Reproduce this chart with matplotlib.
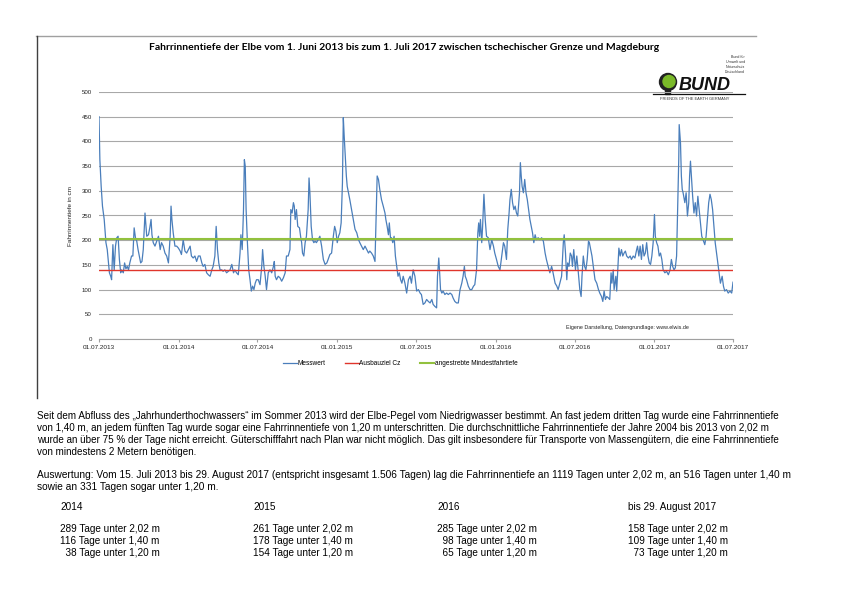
import datetime as dt
import matplotlib
matplotlib.use("Agg")
import matplotlib.pyplot as plt
import matplotlib.dates as mdates
from matplotlib.patches import Circle, Rectangle

plt.rcParams['font.family'] = ['Liberation Sans', 'DejaVu Sans']

# Daten: Tage seit 01.07.2013 und Fahrrinnentiefe in cm
start = dt.date(2013, 7, 1)
tage = [0, 2, 5, 8, 12, 14, 16, 19, 22, 24, 27, 29, 32, 35, 38, 41, 44, 47, 50, 52,
        56, 59, 62, 65, 68, 71, 75, 78, 81, 84, 87, 90, 93, 96, 99, 102, 106, 110, 114, 117,
        120, 122, 125, 129, 133, 137, 141, 144, 148, 152, 156, 160, 164, 166, 168, 171, 175, 179, 183, 187,
        190, 194, 198, 202, 206, 210, 213, 217, 221, 225, 229, 233, 237, 240, 244, 248, 252, 256, 260, 263,
        267, 270, 273, 276, 279, 283, 286, 290, 294, 298, 302, 306, 310, 313, 317, 321, 325, 327, 330, 333,
        335, 337, 339, 342, 345, 348, 351, 354, 357, 360, 363, 367, 371,
        375, 377, 380, 383, 386, 390, 394, 398, 402, 404, 406, 409, 413, 417, 421, 425, 429, 432, 436, 440,
        442, 445, 448, 450, 452, 455, 458, 462, 465, 467, 469, 472, 475, 478, 482, 484, 486, 489, 492, 495,
        498, 501, 505, 509, 513, 517, 521, 525, 528, 532, 536, 540, 543, 546, 549, 552, 555, 558, 561, 563,
        565, 568, 570, 572, 575, 578, 582, 586, 590, 594, 598, 601, 605, 609, 613, 617, 621, 624, 628, 632,
        636, 638, 641, 644, 647, 651, 655, 659, 661, 664, 667, 669, 672, 674, 677, 680, 683, 686, 689, 692,
        695, 698, 701, 705, 709, 713, 717, 720, 724, 728, 732, 736, 740,
        743, 747, 751, 755, 759, 763, 767, 770, 774, 778, 780, 783, 785, 787, 790, 793, 797, 801, 805, 809,
        813, 816, 820, 824, 828, 832, 836, 839, 842, 844, 847, 851, 855, 859, 863, 866, 870, 873, 875, 877,
        879, 882, 884, 887, 890, 893, 897, 901, 905, 909, 912, 916, 920, 924, 928, 932, 935, 939, 942, 945,
        947, 950, 953, 956, 959, 962, 965, 969, 971, 973, 975, 978, 981, 984, 987, 990, 993, 996, 999, 1002,
        1005, 1008, 1012, 1016, 1020, 1024, 1028, 1031, 1035, 1039, 1043, 1045, 1048, 1051, 1055, 1058, 1062, 1066, 1070, 1072,
        1075, 1078, 1080, 1083, 1086, 1089, 1091, 1094, 1098, 1101, 1104, 1108,
        1111, 1113, 1116, 1119, 1122, 1125, 1128, 1130, 1133, 1136, 1139, 1143, 1147, 1151, 1154, 1158, 1161, 1164, 1167, 1170,
        1174, 1177, 1180, 1182, 1185, 1187, 1191, 1193, 1196, 1198, 1201, 1204, 1207, 1210, 1213, 1216, 1220, 1224, 1227, 1231,
        1235, 1239, 1241, 1244, 1247, 1250, 1253, 1256, 1259, 1262, 1265, 1268, 1271, 1274, 1277, 1280, 1282, 1285, 1288, 1291,
        1294, 1297, 1300, 1304, 1308, 1312, 1316, 1319, 1322, 1325, 1328, 1331, 1333, 1336, 1337, 1340, 1342, 1344, 1346, 1350,
        1353, 1356, 1359, 1361, 1363, 1366, 1368, 1371, 1374, 1377, 1380, 1383, 1386, 1389, 1392, 1396, 1399, 1402, 1405, 1408,
        1411, 1414, 1417, 1420, 1423, 1426, 1429, 1432, 1436, 1439, 1442, 1446, 1450, 1454, 1458, 1461]
tiefe_cm = [450, 363, 309, 269, 242, 218, 195, 181, 154, 134, 127, 120, 191, 140, 188, 205, 208, 161, 134, 140,
            134, 154, 142, 147, 140, 154, 168, 168, 225, 205, 198, 181, 168, 154, 157, 181, 255, 208, 211, 225,
            242, 211, 195, 188, 198, 208, 181, 195, 188, 174, 168, 154, 208, 269, 242, 215, 188, 188, 184, 178,
            171, 201, 178, 174, 181, 188, 168, 164, 168, 157, 168, 168, 154, 147, 151, 134, 130, 127, 140, 147,
            168, 228, 181, 154, 140, 140, 137, 140, 134, 137, 140, 151, 134, 140, 134, 130, 174, 211, 181, 262,
            363, 350, 262, 195, 140, 120, 97, 107, 100, 113, 120, 120, 110,
            147, 181, 147, 127, 100, 134, 140, 134, 147, 157, 127, 120, 127, 124, 117, 124, 134, 168, 168, 181,
            262, 255, 276, 269, 242, 262, 228, 225, 205, 195, 174, 168, 195, 208, 262, 326, 296, 228, 201, 195,
            198, 195, 201, 208, 188, 161, 151, 154, 161, 171, 174, 208, 228, 218, 195, 208, 215, 235, 316, 448,
            411, 364, 330, 309, 296, 282, 262, 242, 222, 215, 201, 195, 188, 181, 188, 181, 174, 178, 174, 168,
            157, 228, 330, 323, 303, 282, 269, 255, 242, 228, 211, 235, 201, 205, 195, 208, 168, 147, 127, 134,
            120, 113, 127, 113, 93, 120, 127, 113, 140, 127, 97, 100, 93,
            90, 70, 73, 80, 76, 73, 80, 70, 66, 63, 127, 164, 134, 100, 93, 97, 90, 93, 90, 93,
            90, 83, 76, 73, 73, 100, 113, 127, 147, 127, 120, 107, 100, 100, 107, 110, 140, 215, 235, 208,
            242, 195, 228, 293, 242, 208, 205, 181, 201, 188, 174, 161, 147, 140, 168, 195, 188, 161, 222, 255,
            282, 303, 276, 262, 269, 255, 249, 296, 357, 330, 309, 296, 323, 296, 282, 262, 242, 228, 215, 195,
            211, 201, 205, 201, 205, 198, 174, 161, 147, 134, 147, 140, 127, 113, 107, 100, 113, 127, 195, 211,
            174, 120, 154, 147, 174, 168, 147, 181, 140, 168, 140, 100,
            86, 127, 168, 147, 140, 161, 198, 195, 181, 168, 147, 120, 113, 100, 93, 86, 76, 97, 80, 86,
            83, 80, 134, 113, 140, 100, 127, 97, 147, 184, 168, 181, 168, 174, 178, 168, 164, 168, 161, 168,
            164, 181, 188, 168, 188, 161, 191, 168, 174, 195, 168, 154, 151, 168, 195, 252, 208, 195, 188, 168,
            174, 161, 140, 134, 137, 130, 140, 161, 147, 140, 144, 168, 249, 364, 434, 397, 330, 303, 296, 276,
            296, 249, 276, 330, 360, 316, 289, 255, 276, 249, 289, 262, 235, 208, 201, 191, 208, 242, 276, 293,
            282, 262, 228, 195, 174, 154, 134, 113, 127, 107, 97, 100, 93, 97, 93, 115]
ausbauziel_cz = 140
mindesttiefe = 202

titel = ("Fahrrinnentiefe der Elbe vom 1. Juni 2013 bis zum 1. Juli 2017 "
         "zwischen tschechischer Grenze und Magdeburg")

absatz = [
    "Seit dem Abfluss des \u201eJahrhunderthochwassers\u201c im Sommer 2013 wird der Elbe-Pegel vom Niedrigwasser bestimmt. An fast jedem dritten Tag wurde eine Fahrrinnentiefe",
    "von 1,40 m, an jedem f\u00fcnften Tag wurde sogar eine Fahrrinnentiefe von 1,20 m unterschritten. Die durchschnittliche Fahrrinnentiefe der Jahre 2004 bis 2013 von 2,02 m",
    "wurde an \u00fcber 75 % der Tage nicht erreicht. G\u00fcterschifffahrt nach Plan war nicht m\u00f6glich. Das gilt insbesondere f\u00fcr Transporte von Masseng\u00fctern, die eine Fahrrinnentiefe",
    "von mindestens 2 Metern ben\u00f6tigen.",
]
auswertung = [
    "Auswertung: Vom 15. Juli 2013 bis 29. August 2017 (entspricht insgesamt 1.506 Tagen) lag die Fahrrinnentiefe an 1119 Tagen unter 2,02 m, an 516 Tagen unter 1,40 m",
    "sowie an 331 Tagen sogar unter 1,20 m.",
]
jahre = ["2014", "2015", "2016", "bis 29. August 2017"]
tage_202 = [289, 261, 285, 158]
tage_140 = [116, 178, 98, 109]
tage_120 = [38, 154, 65, 73]

fig = plt.figure(figsize=(8.42, 5.95), dpi=100)

# Seite in Pixelkoordinaten (fuer Rahmen, Logo und Text)
page = fig.add_axes([0, 0, 1, 1])
page.set_xlim(0, 842)
page.set_ylim(595, 0)
page.axis("off")

page.plot([36, 756], [36, 36], color="#a0a0a0", lw=1)
page.plot([36.5, 36.5], [36, 398], color="#404040", lw=1)

page.text(404, 48, titel, ha="center", va="center", fontsize=7.5,
          fontweight="bold", family=["Lato", "DejaVu Sans"])

# BUND Logo
for i, z in enumerate(["Bund f\u00fcr", "Umwelt und", "Naturschutz", "Deutschland"]):
    page.text(745, 57 + i * 5, z, ha="right", va="center", fontsize=2.6, color="#333333")
page.add_patch(Rectangle((665, 86), 5, 8, color="#222222"))
page.add_patch(Circle((668, 82), 8.5, color="#222222"))
page.add_patch(Circle((669, 81.5), 6, color="#7ab929"))
page.text(679, 86, "BUND", ha="left", va="center", fontsize=13, fontweight="bold",
          style="italic", color="#111111")
page.plot([653, 745], [93.5, 93.5], color="#111111", lw=0.9)
page.text(695, 98.5, "FRIENDS OF THE EARTH GERMANY", ha="center", va="center",
          fontsize=2.9, color="#333333")

# Diagramm
ax = fig.add_axes([99 / 842, 1 - 339 / 595, 634 / 842, 247 / 595])
ax.set_facecolor("none")
datum = [start + dt.timedelta(days=t) for t in tage]
ax.plot(datum, tiefe_cm, color="#4a7ebb", lw=0.9, label="Messwert", zorder=3)
ax.axhline(ausbauziel_cz, color="#e0352b", lw=1.0, label="Ausbauziel Cz", zorder=4)
ax.axhline(mindesttiefe, color="#92c13e", lw=1.5, label="angestrebte Mindestfahrtiefe", zorder=4)

ax.set_xlim(dt.date(2013, 7, 1), dt.date(2017, 7, 1))
ax.set_ylim(0, 500)
ax.set_yticks(range(0, 501, 50))
ax.xaxis.set_major_locator(mdates.MonthLocator(bymonth=[1, 7]))
ax.xaxis.set_major_formatter(mdates.DateFormatter("%d.%m.%Y"))
ax.grid(axis="y", color="#a8a8a8", lw=0.8, zorder=0)
ax.set_axisbelow(True)
for s in ["top", "right", "left"]:
    ax.spines[s].set_visible(False)
ax.spines["bottom"].set_color("#a0a0a0")
ax.tick_params(axis="y", length=0, pad=5, labelsize=4.4, labelcolor="#222222")
ax.tick_params(axis="x", length=2.5, color="#a0a0a0", pad=1.5, labelsize=4.6, labelcolor="#222222")
ax.set_ylabel("Fahrrinnentiefe in cm", fontsize=4.6, color="#222222")
ax.yaxis.set_label_coords(-0.041, 0.5)

ax.text(0.834, 0.045, "Eigene Darstellung, Datengrundlage: www.elwis.de", transform=ax.transAxes,
        ha="center", va="center", fontsize=3.9, color="#222222")
ax.legend(loc="center", bbox_to_anchor=(0.475, -0.101), ncol=3, frameon=False, fontsize=4.7,
          handlelength=2.1, handletextpad=0.1, columnspacing=3.0)

# Text unter dem Diagramm
for i, zeile in enumerate(absatz):
    page.text(37, 416 + i * 12, zeile, ha="left", va="center", fontsize=7.15)
for i, zeile in enumerate(auswertung):
    page.text(37, 475 + i * 12, zeile, ha="left", va="center", fontsize=7.25)

spalten_x = [60, 253, 437, 628]
for j, x in enumerate(spalten_x):
    page.text(x, 507, jahre[j], ha="left", va="center", fontsize=7.2)
    for k, (n, m) in enumerate([(tage_202[j], "2,02"), (tage_140[j], "1,40"), (tage_120[j], "1,20")]):
        nummer = str(n).rjust(3).replace(" ", "  ")
        page.text(x, 529 + k * 12, f"{nummer} Tage unter {m} m", ha="left", va="center", fontsize=7.2)

fig.savefig("out.png", dpi=100)
